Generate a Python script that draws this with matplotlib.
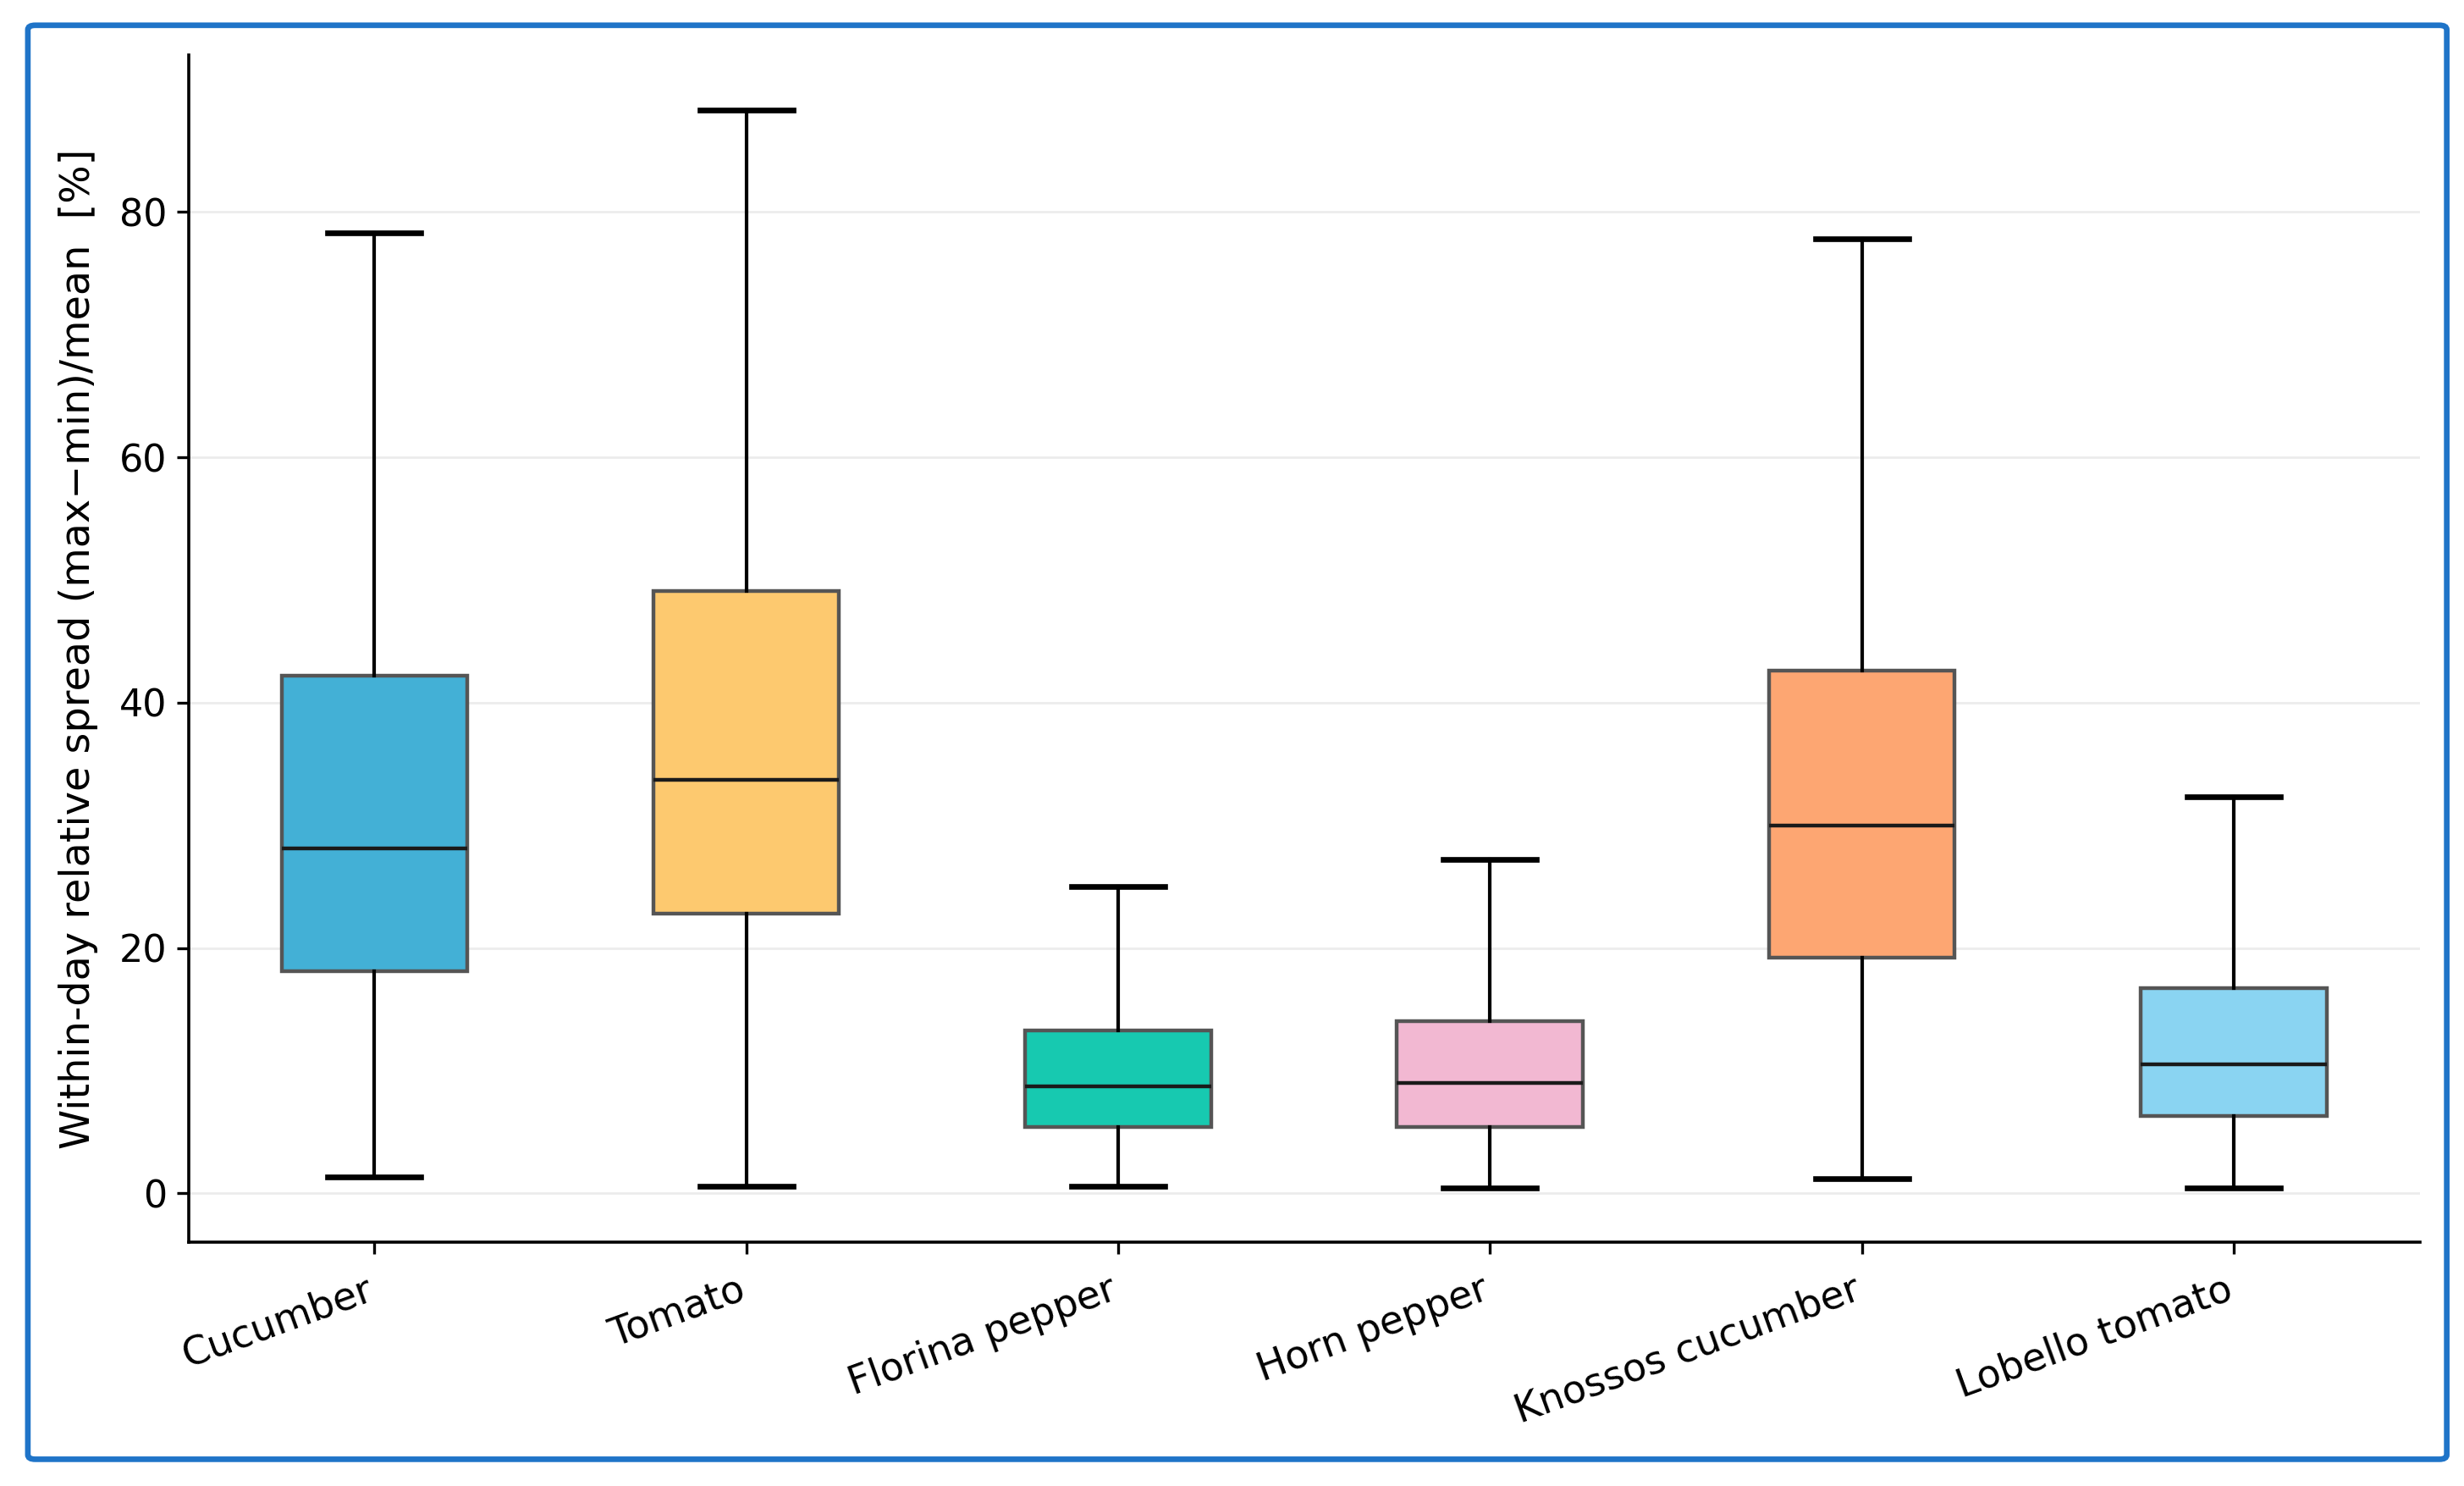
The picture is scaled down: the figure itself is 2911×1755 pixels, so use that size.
import matplotlib
matplotlib.use('Agg')
import matplotlib.pyplot as plt
import matplotlib.transforms as mtransforms
from matplotlib.patches import FancyBboxPatch

# box statistics (percent)
crops = ['Cucumber', 'Tomato', 'Florina pepper', 'Horn pepper', 'Knossos cucumber', 'Lobello tomato']
whis_lo = [1.3, 0.6, 0.6, 0.4, 1.2, 0.4]
q1 = [18.1, 22.8, 5.4, 5.4, 19.2, 6.3]
median = [28.1, 33.7, 8.7, 9.0, 30.0, 10.5]
q3 = [42.2, 49.1, 13.3, 14.0, 42.6, 16.7]
whis_hi = [78.3, 88.3, 25.0, 27.2, 77.8, 32.3]
colors = ['#43b0d6', '#fdc96f', '#17c9b0', '#f2b8d2', '#fda672', '#8ad4f2']

stats = []
for i, name in enumerate(crops):
    stats.append({'label': name, 'whislo': whis_lo[i], 'q1': q1[i], 'med': median[i],
                  'q3': q3[i], 'whishi': whis_hi[i], 'fliers': []})

fig = plt.figure(figsize=(14.555, 8.775), dpi=200)
ax = fig.add_axes([0.0765, 0.164, 0.9055, 0.799])

bp = ax.bxp(stats, positions=range(len(crops)), widths=0.5, patch_artist=True,
            showfliers=False,
            boxprops=dict(edgecolor='#555555', linewidth=1.6),
            medianprops=dict(color='#1a1a1a', linewidth=1.6),
            whiskerprops=dict(color='black', linewidth=1.5),
            capprops=dict(color='black', linewidth=2.4))
for patch, c in zip(bp['boxes'], colors):
    patch.set_facecolor(c)

ax.set_xlim(-0.5, 5.5)
ax.set_ylim(-4, 92.8)
ax.set_yticks([0, 20, 40, 60, 80])
ax.yaxis.grid(True, color='#ececec', linewidth=1.0)
ax.set_axisbelow(True)
for s in ['top', 'right']:
    ax.spines[s].set_visible(False)
ax.spines['left'].set_linewidth(1.3)
ax.spines['bottom'].set_linewidth(1.3)
ax.tick_params(axis='both', length=5, width=1.2)
ax.tick_params(axis='y', labelsize=16, pad=4)
ax.tick_params(axis='x', pad=7)
ax.set_xticks(range(len(crops)))
ax.set_xticklabels(crops, rotation=20, ha='right', rotation_mode='anchor', fontsize=16.5)
shift = mtransforms.ScaledTranslation(-4 / 72, 0, fig.dpi_scale_trans)
for lbl in ax.get_xticklabels():
    lbl.set_transform(lbl.get_transform() + shift)
ax.set_ylabel('Within-day relative spread (max\u2212min)/mean  [%]', fontsize=17.2, labelpad=9)

# blue frame around the whole figure
frame = FancyBboxPatch((0.0113, 0.018), 0.9817, 0.965, boxstyle='round,pad=0,rounding_size=0.003',
                       transform=fig.transFigure, fill=False, edgecolor='#1f74c8', linewidth=2.4)
fig.patches.append(frame)

fig.savefig('out.png', dpi=200)
